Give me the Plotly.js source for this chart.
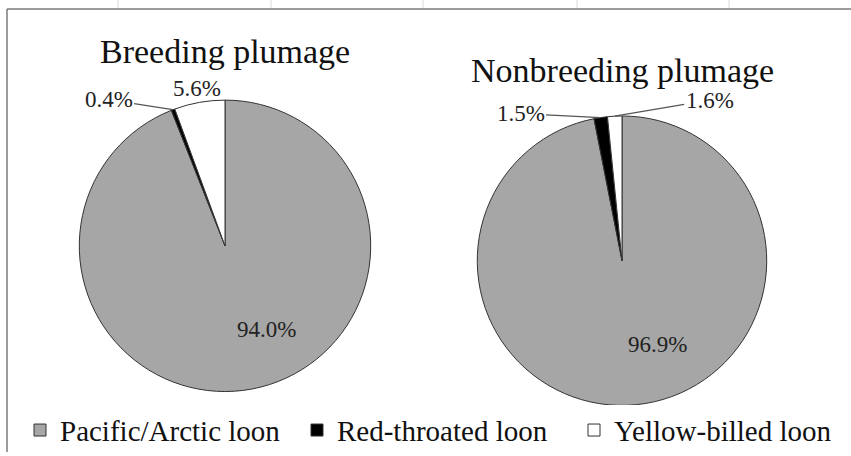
<!DOCTYPE html>
<html>
<head>
<meta charset="utf-8">
<script src="https://cdn.plot.ly/plotly-3.0.1.min.js"></script>
<style>
html,body{margin:0;padding:0;background:#fff;}
#chart{width:851px;height:456px;}
</style>
</head>
<body>
<div id="chart"></div>
<script>
// ---- data ----
const species = ["Pacific/Arctic loon", "Red-throated loon", "Yellow-billed loon"];
const breedingPct = [94.0, 0.4, 5.6];
const nonbreedingPct = [96.9, 1.5, 1.6];
const panelTitles = ["Breeding plumage", "Nonbreeding plumage"];

// ---- style ----
const W = 851, H = 456;
const FONT = "Liberation Serif, Times New Roman, serif";
const sliceColors = ["#a6a6a6", "#000000", "#ffffff"];
// pie geometry in pixels (center x, center y, radius)
const pies = [
  {cx: 225, cy: 248, r: 147, values: breedingPct, title: panelTitles[0], titleY: 52,
   // label placement: [mode, angleDeg (null = slice middle), radiusFactor, ax, ay]
   labels: [["in", 154, 0.64], ["arrow", null, 1.0, -64, -10], ["out", null, 1.1]]},
  {cx: 622, cy: 263, r: 146, values: nonbreedingPct, title: panelTitles[1], titleY: 71,
   labels: [["in", 157, 0.63], ["arrow", null, 1.0, -80, -4], ["arrow", null, 1.0, 95, -16]]}
];

const px = x => x / W;
const py = y => 1 - y / H;

const traces = [];
const annotations = [];

pies.forEach((p, i) => {
  traces.push({
    type: "pie",
    values: p.values,
    labels: species,
    sort: false,
    direction: "clockwise",
    rotation: 0,
    textinfo: "none",
    hoverinfo: "label+percent",
    marker: {colors: sliceColors, line: {color: "#333333", width: 1}},
    domain: {x: [px(p.cx - p.r), px(p.cx + p.r)], y: [py(p.cy + p.r), py(p.cy - p.r)]},
    showlegend: i === 0
  });
  annotations.push({
    text: p.title, xref: "paper", yref: "paper", x: px(p.cx), y: py(p.titleY),
    xanchor: "center", yanchor: "middle",
    showarrow: false, font: {family: FONT, size: 34, color: "#111"}
  });
  const total = p.values.reduce((a, b) => a + b, 0);
  let cum = 0;
  p.values.forEach((v, k) => {
    const mid = (cum + v / 2) / total * 360;
    cum += v;
    const L = p.labels[k];
    const ang = (L[1] === null ? mid : L[1]) * Math.PI / 180;
    const rr = p.r * L[2];
    const x = p.cx + rr * Math.sin(ang);
    const y = p.cy - rr * Math.cos(ang);
    const txt = v.toFixed(1) + "%";
    const a = {
      text: txt, xref: "paper", yref: "paper", x: px(x), y: py(y),
      xanchor: "center", yanchor: "middle",
      font: {family: FONT, size: 23, color: "#222"}, showarrow: false
    };
    if (L[0] === "arrow") {
      a.showarrow = true; a.arrowhead = 0; a.arrowwidth = 1.2; a.arrowcolor = "#555";
      a.ax = L[3]; a.ay = L[4]; a.standoff = 0; a.startstandoff = 0;
    }
    annotations.push(a);
  });
});

// frame lines and faint grid stubs
const shapes = [
  {type: "line", xref: "paper", yref: "paper", x0: px(7), x1: 1, y0: py(9), y1: py(9), line: {color: "#7a7a7a", width: 1.5}},
  {type: "line", xref: "paper", yref: "paper", x0: px(7), x1: px(7), y0: py(9), y1: 0, line: {color: "#7a7a7a", width: 1.5}}
];
[118, 271, 423, 577, 729].forEach(gx => {
  shapes.push({type: "line", xref: "paper", yref: "paper", x0: px(gx), x1: px(gx), y0: 1, y1: py(8), line: {color: "#d8d8d8", width: 1}});
});

const layout = {
  width: W, height: H,
  margin: {l: 0, r: 0, t: 0, b: 0},
  paper_bgcolor: "#fff",
  showlegend: true,
  legend: {
    orientation: "h", x: px(24), xanchor: "left", y: py(434), yanchor: "middle",
    entrywidth: 232, entrywidthmode: "pixels",
    font: {family: FONT, size: 29, color: "#111"}, traceorder: "normal"
  },
  annotations: annotations,
  shapes: shapes
};

Plotly.newPlot("chart", traces, layout, {displayModeBar: false, staticPlot: true});
</script>
</body>
</html>
